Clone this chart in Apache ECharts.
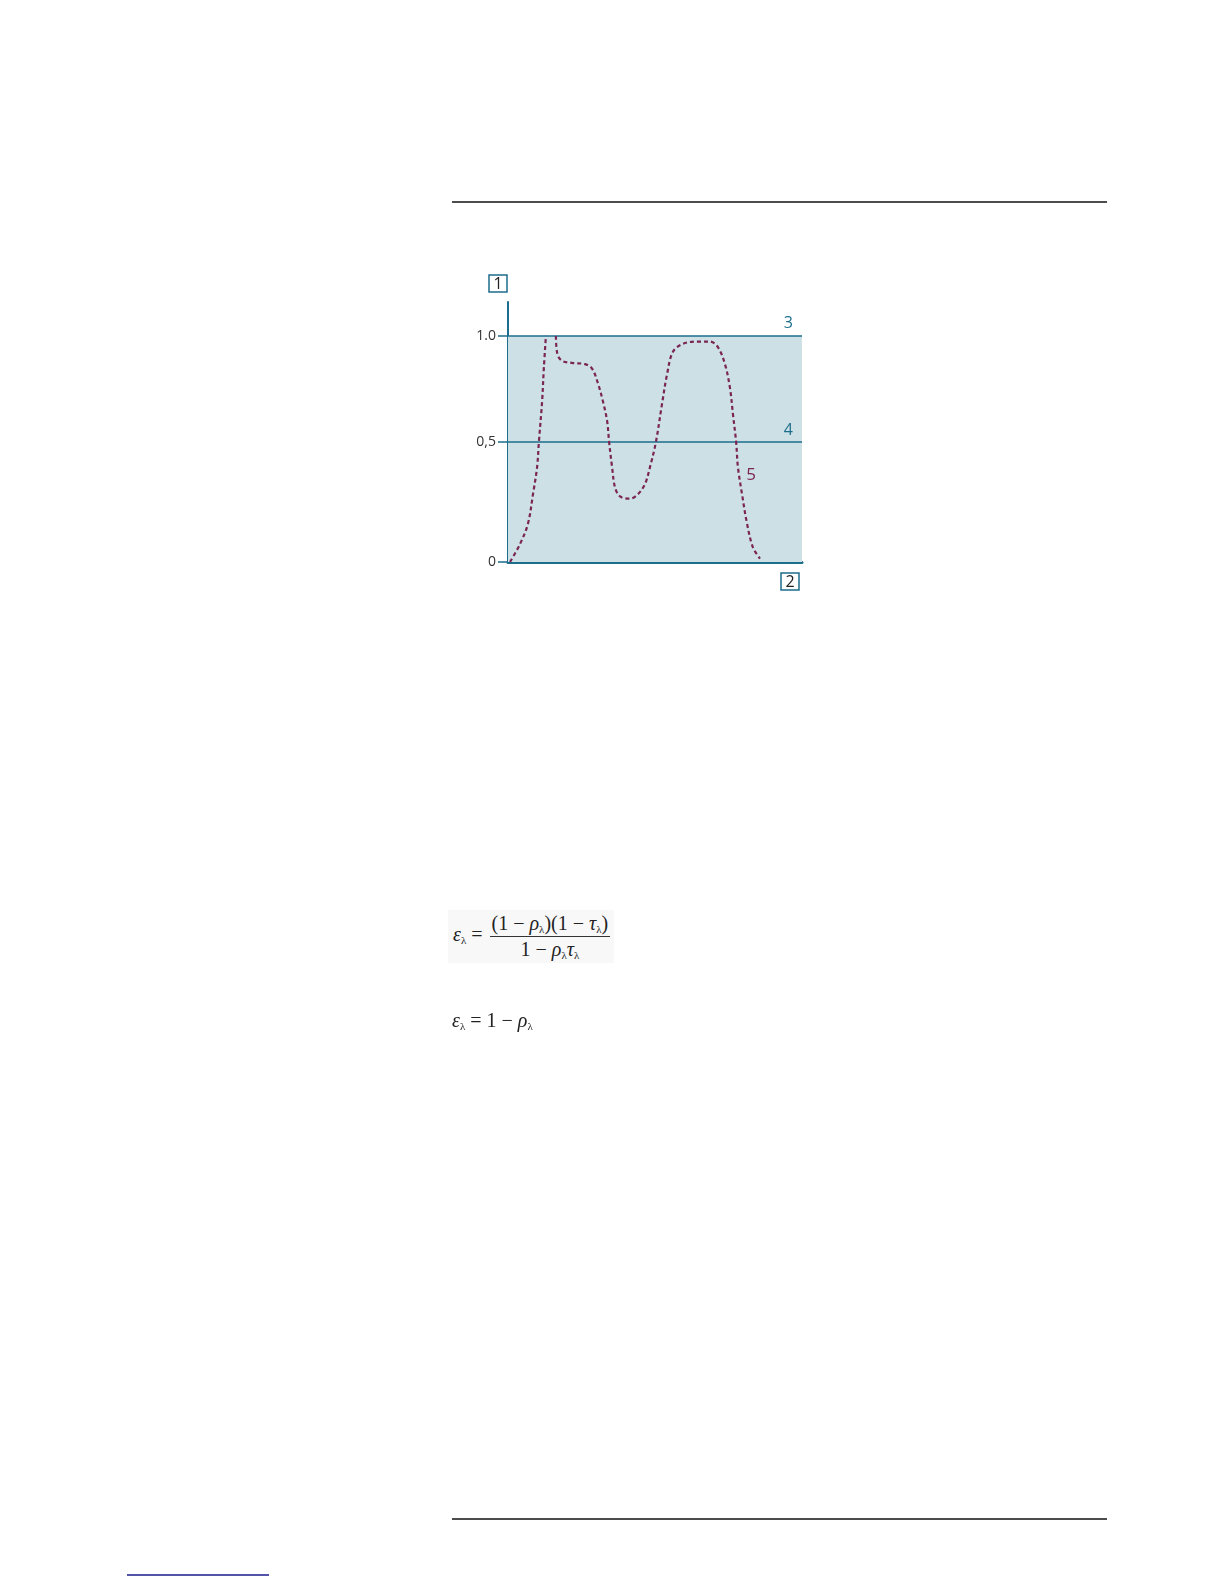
<!DOCTYPE html>
<html>
<head>
<meta charset="utf-8">
<script src="https://cdn.jsdelivr.net/npm/echarts@6/dist/echarts.min.js"></script>
<style>
html, body { margin: 0; padding: 0; background: #fff; }
#page { position: relative; width: 1224px; height: 1584px; }
#chart { position: absolute; left: 0; top: 0; width: 1224px; height: 1584px; }
.eq { position: absolute; font-family: "Liberation Serif", "DejaVu Serif", serif; font-size: 20px; color: #222; white-space: nowrap; }
.eq i { font-style: italic; }
.eq sub { font-size: 11px; vertical-align: -3px; }
.frac { display: inline-flex; flex-direction: column; align-items: center; vertical-align: middle; margin-left: 2px; }
.frac .num { border-bottom: 1px solid #333; padding: 0 2px 1px 2px; }
.frac .den { padding-top: 1px; }
#eq1 { left: 448px; top: 910px; background: #f8f8f8; padding: 2px 4px 2px 5px; }
#eq2 { left: 452px; top: 1009px; }
</style>
</head>
<body>
<div id="page">
  <div id="chart"></div>
  <div class="eq" id="eq1"><i>ε</i><sub>λ</sub> = <span class="frac"><span class="num">(1 − <i>ρ</i><sub>λ</sub>)(1 − <i>τ</i><sub>λ</sub>)</span><span class="den">1 − <i>ρ</i><sub>λ</sub><i>τ</i><sub>λ</sub></span></span></div>
  <div class="eq" id="eq2"><i>ε</i><sub>λ</sub> = 1 − <i>ρ</i><sub>λ</sub></div>
</div>
<script>
// values (x in % of the axis length)
var branch1X = [0.7, 4.1, 6.8, 8.5, 9.9, 10.5, 11.6, 12.2, 12.9];
var branch1Y = [0.0, 0.08, 0.17, 0.30, 0.42, 0.53, 0.71, 0.86, 1.0];
var branch2X = [16.3, 16.8, 18.4, 22.1, 26.2, 28.6, 30.6, 32.3, 33.7, 34.4, 35.4, 36.4, 38.1, 41.5, 44.2,
  46.6, 48.3, 50.3, 52.4, 54.1, 56.1, 59.5, 64.3, 68.7, 71.4, 73.8, 75.5, 76.5, 77.6, 78.2, 79.6, 81.3, 83.3, 85.7];
var branch2Y = [1.0, 0.92, 0.89, 0.88, 0.875, 0.855, 0.79, 0.71, 0.625, 0.53, 0.42, 0.33, 0.29, 0.28, 0.30,
  0.345, 0.42, 0.53, 0.70, 0.83, 0.93, 0.965, 0.975, 0.975, 0.95, 0.875, 0.77, 0.655, 0.53, 0.42, 0.30, 0.17, 0.065, 0.015];
var yTickValues = [0, 0.53, 1.0];
var yTickLabels = ['0', '0,5', '1.0'];
var refLineValues = [1.0, 0.53];
var refLineNames = ['3', '4'];
var curveName = '5';
var curveNameAt = [82.7, 0.386];
var yAxisName = '1';
var xAxisName = '2';

var teal = '#1d6e8c';
var curveColor = '#7b2553';

function zip(xs, ys) {
  return xs.map(function (x, i) { return [x, ys[i]]; });
}

var chart = echarts.init(document.getElementById('chart'));

var option = {
  backgroundColor: '#fff',
  animation: false,
  grid: { left: 508, right: 422, top: 302, bottom: 1022 },
  xAxis: {
    type: 'value',
    min: 0,
    max: 100,
    axisLine: { show: true, onZero: false, lineStyle: { color: teal, width: 3 } },
    axisTick: { show: false },
    axisLabel: { show: false },
    splitLine: { show: false }
  },
  yAxis: {
    type: 'value',
    min: 0,
    max: 1.15,
    axisLine: { show: true, lineStyle: { color: teal, width: 2 } },
    axisTick: { show: true, length: 10, customValues: yTickValues, lineStyle: { color: teal, width: 1.5 } },
    axisLabel: {
      customValues: yTickValues,
      margin: 12,
      color: '#333',
      fontSize: 14,
      fontFamily: 'Open Sans',
      formatter: function (v) {
        var best = 0;
        yTickValues.forEach(function (t, i) {
          if (Math.abs(t - v) < Math.abs(yTickValues[best] - v)) best = i;
        });
        return yTickLabels[best];
      }
    },
    splitLine: { show: false }
  },
  series: [
    {
      type: 'line',
      data: zip(branch1X, branch1Y),
      smooth: 0.35,
      symbol: 'none',
      z: 5,
      lineStyle: { color: curveColor, width: 2.2, type: [4, 3] },
      markArea: {
        silent: true,
        itemStyle: { color: '#cde0e6' },
        data: [[{ yAxis: 0, xAxis: 0 }, { yAxis: refLineValues[0], xAxis: 100 }]]
      },
      markLine: {
        silent: true,
        symbol: 'none',
        lineStyle: { color: teal, width: 1.5, type: 'solid' },
        label: {
          position: 'insideEndTop',
          color: teal,
          fontSize: 16,
          fontFamily: 'Open Sans',
          distance: [9, 4],
          formatter: function (p) { return refLineNames[p.dataIndex]; }
        },
        data: refLineValues.map(function (v) { return { yAxis: v }; })
      }
    },
    {
      type: 'line',
      data: zip(branch2X, branch2Y),
      smooth: 0.35,
      symbol: 'none',
      z: 5,
      lineStyle: { color: curveColor, width: 2.2, type: [4, 3] },
      markPoint: {
        silent: true,
        symbol: 'rect',
        symbolSize: 1,
        itemStyle: { color: 'rgba(0,0,0,0)' },
        label: { show: true, position: 'inside', color: curveColor, fontSize: 17, fontFamily: 'Open Sans', formatter: curveName },
        data: [{ coord: curveNameAt }]
      }
    }
  ]
};

chart.setOption(option);

// boxed axis numbers placed from the axis ends
var yTop = chart.convertToPixel({ gridIndex: 0 }, [0, 1.15]);
var xEnd = chart.convertToPixel({ gridIndex: 0 }, [100, 0]);

function boxLabel(id, text, right, top) {
  return {
    id: id,
    type: 'group',
    x: right - 19,
    y: top,
    children: [
      { type: 'rect', shape: { x: 0, y: 0, width: 18, height: 17 }, style: { fill: '#fff', stroke: teal, lineWidth: 1.5 } },
      { type: 'text', x: 9, y: 9, style: { text: text, fill: '#222', font: '16px "Open Sans"', align: 'center', verticalAlign: 'middle' } }
    ]
  };
}

chart.setOption({
  graphic: [
    { id: 'ruleTop', type: 'line', shape: { x1: 452, y1: 202, x2: 1107, y2: 202 }, style: { stroke: '#111', lineWidth: 1.5 } },
    { id: 'ruleBottom', type: 'line', shape: { x1: 452, y1: 1519, x2: 1107, y2: 1519 }, style: { stroke: '#111', lineWidth: 1.5 } },
    { id: 'link', type: 'line', shape: { x1: 127, y1: 1575, x2: 269, y2: 1575 }, style: { stroke: '#1a1a8c', lineWidth: 1.5 } },
    boxLabel('boxY', yAxisName, yTop[0], yTop[1] - 27),
    boxLabel('boxX', xAxisName, xEnd[0] - 2, xEnd[1] + 11)
  ]
}, { replaceMerge: ['graphic'] });
</script>
</body>
</html>
